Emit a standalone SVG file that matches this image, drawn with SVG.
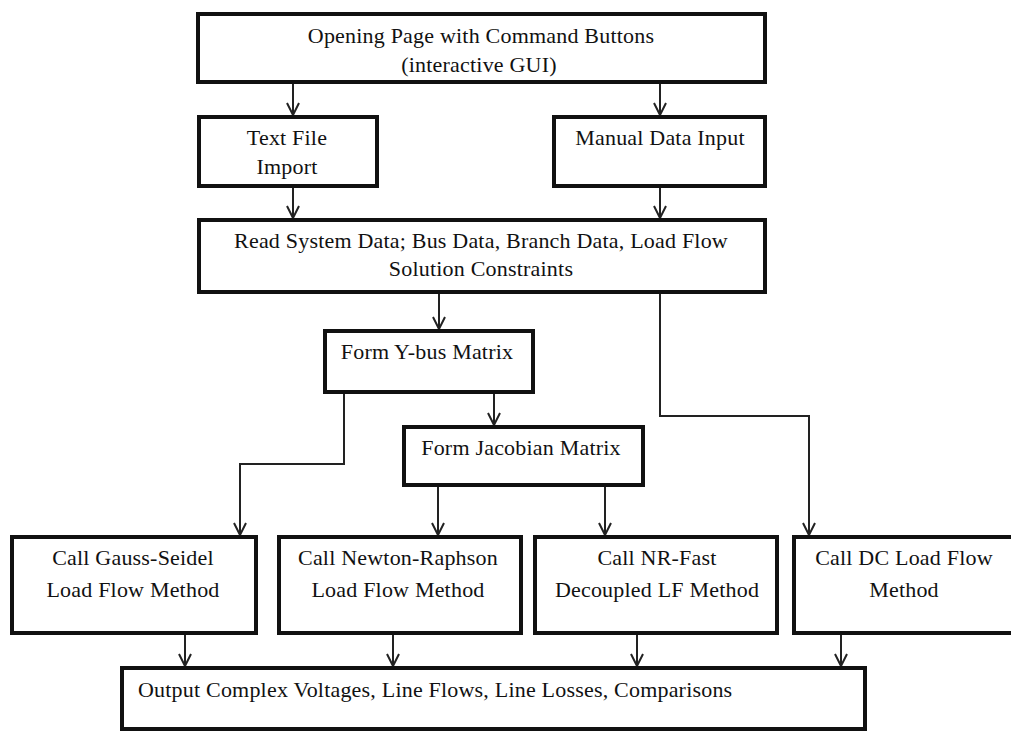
<svg xmlns="http://www.w3.org/2000/svg" width="1011" height="731" viewBox="0 0 1011 731">
<defs>
<style>
.box{fill:#fff;stroke:#111;stroke-width:4}
.t{font-family:"Liberation Serif","Times New Roman",serif;font-size:22px;letter-spacing:0.2px;fill:#111;text-anchor:middle}
.ts{font-family:"Liberation Serif","Times New Roman",serif;font-size:22px;letter-spacing:0.2px;fill:#111}
.c{fill:none;stroke:#222;stroke-width:2}
</style>
<marker id="arr" viewBox="0 0 14 14" refX="13" refY="7" markerWidth="14" markerHeight="14" markerUnits="userSpaceOnUse" orient="auto">
<path d="M1,1 L13,7 L1,13" fill="none" stroke="#222" stroke-width="2"/>
</marker>
</defs>
<rect width="1011" height="731" fill="#fff"/>
<g id="connectors">
<path class="c" d="M293 84 V115" marker-end="url(#arr)"/>
<path class="c" d="M660 84 V115" marker-end="url(#arr)"/>
<path class="c" d="M293 188 V218" marker-end="url(#arr)"/>
<path class="c" d="M660 188 V218" marker-end="url(#arr)"/>
<path class="c" d="M439 294 V329" marker-end="url(#arr)"/>
<path class="c" d="M660 294 V416 H809 V535" marker-end="url(#arr)"/>
<path class="c" d="M344 394 V464 H240 V535" marker-end="url(#arr)"/>
<path class="c" d="M494 394 V425" marker-end="url(#arr)"/>
<path class="c" d="M438 487 V535" marker-end="url(#arr)"/>
<path class="c" d="M605 487 V535" marker-end="url(#arr)"/>
<path class="c" d="M185 635 V666" marker-end="url(#arr)"/>
<path class="c" d="M393 635 V666" marker-end="url(#arr)"/>
<path class="c" d="M637 635 V666" marker-end="url(#arr)"/>
<path class="c" d="M841 635 V666" marker-end="url(#arr)"/>
</g>
<g id="opening">
<rect class="box" x="198" y="14" width="567" height="68"/>
<text class="t" x="481" y="43">Opening Page with Command Buttons</text>
<text class="t" x="479" y="72">(interactive GUI)</text>
</g>
<g id="textfile">
<rect class="box" x="199" y="117" width="178" height="69"/>
<text class="t" x="287" y="145">Text File</text>
<text class="t" x="287" y="174">Import</text>
</g>
<g id="manual">
<rect class="box" x="554" y="117" width="211" height="69"/>
<text class="t" x="660" y="145">Manual Data Input</text>
</g>
<g id="read">
<rect class="box" x="199" y="220" width="566" height="72"/>
<text class="t" x="481" y="248">Read System Data; Bus Data, Branch Data, Load Flow</text>
<text class="t" x="481" y="276">Solution Constraints</text>
</g>
<g id="ybus">
<rect class="box" x="325" y="331" width="208" height="61"/>
<text class="t" x="427" y="359">Form Y-bus Matrix</text>
</g>
<g id="jacobian">
<rect class="box" x="404" y="427" width="239" height="58"/>
<text class="t" x="521" y="455">Form Jacobian Matrix</text>
</g>
<g id="gauss">
<rect class="box" x="12" y="537" width="244" height="96"/>
<text class="t" x="133" y="565">Call Gauss-Seidel</text>
<text class="t" x="133" y="597">Load Flow Method</text>
</g>
<g id="newton">
<rect class="box" x="279" y="537" width="242" height="96"/>
<text class="t" x="398" y="565">Call Newton-Raphson</text>
<text class="t" x="398" y="597">Load Flow Method</text>
</g>
<g id="nrfast">
<rect class="box" x="535" y="537" width="242" height="96"/>
<text class="t" x="657" y="565">Call NR-Fast</text>
<text class="t" x="657" y="597">Decoupled LF Method</text>
</g>
<g id="dc">
<rect class="box" x="794" y="537" width="226" height="96"/>
<text class="t" x="904" y="565">Call DC Load Flow</text>
<text class="t" x="904" y="597">Method</text>
</g>
<g id="output">
<rect class="box" x="122" y="668" width="743" height="61"/>
<text class="ts" x="138" y="697">Output Complex Voltages, Line Flows, Line Losses, Comparisons</text>
</g>
</svg>
